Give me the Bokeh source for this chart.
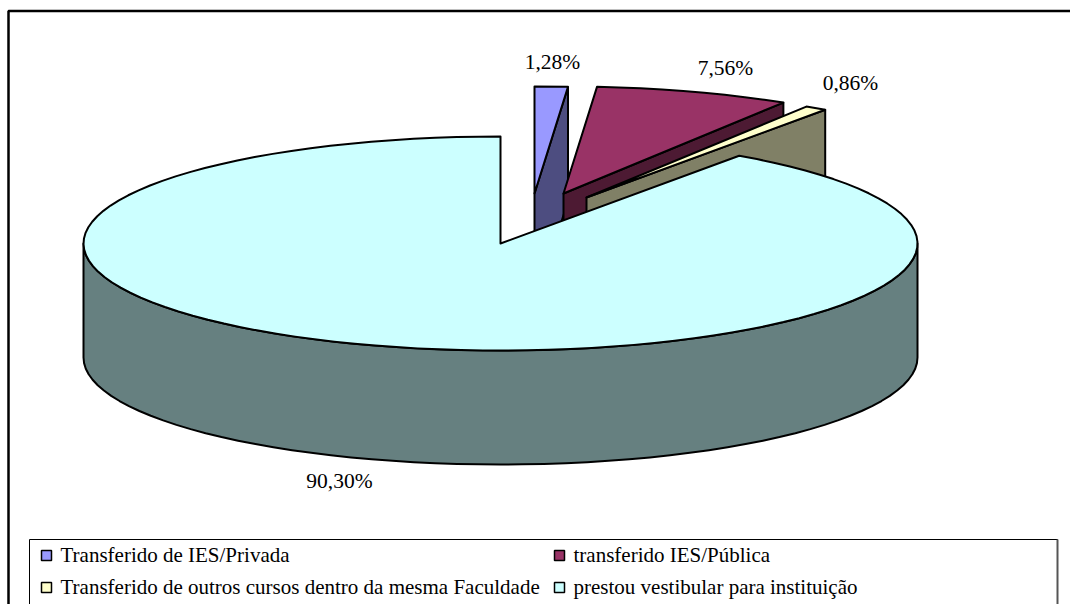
import numpy as np
from bokeh.core.properties import value
from bokeh.embed import file_html
from bokeh.models import Range1d
from bokeh.plotting import figure
from bokeh.resources import INLINE

# Shares of each entry route, in pie order starting at twelve o'clock
categories = [
    "Transferido de IES/Privada",
    "transferido IES/Pública",
    "Transferido de outros cursos dentro da mesma Faculdade",
    "prestou vestibular para instituição",
]
shares = [1.28, 7.56, 0.86, 90.30]
share_labels = ["1,28%", "7,56%", "0,86%", "90,30%"]
top_colors = ["#9999FF", "#993366", "#FFFFCC", "#CCFFFF"]
wall_colors = ["#4D4D80", "#4D1A33", "#808066", "#668080"]

# Projection of the tilted disc, in page pixels
CX, CY, RX, RY, DEPTH = 500, 243, 417, 107, 114
EXPLODE = [(34, -50), (63, -50), (86, -46), (0, 0)]
LABEL_POS = [(552, 61), (725, 67), (850, 82), (339, 480)]
FONT = value("Liberation Serif")


def rim(a0, a1, dx=0, dy=0, step=3.0):
    n = max(2, int((a1 - a0) / step) + 1)
    t = np.radians(np.linspace(a0, a1, n))
    return CX + dx + RX * np.sin(t), CY + dy - RY * np.cos(t)


p = figure(
    width=1070, height=604, x_range=Range1d(0, 1070), y_range=Range1d(604, 0),
    output_backend="svg", toolbar_location=None, min_border=0,
    outline_line_color=None, background_fill_color="white",
)
p.axis.visible = False
p.grid.visible = False

# Outer chart frame: left and top edges only reach the page
p.line([8, 8, 1070], [604, 10.5, 10.5], line_color="black", line_width=2.5)

# Exploded slices are painted back to front, the large slice goes last
edges = np.concatenate([[0], np.cumsum(shares)]) * 3.6
for i in range(3):
    dx, dy = EXPLODE[i]
    tx, ty = CX + dx, CY + dy
    xs, ys = rim(edges[i], edges[i + 1], dx, dy)
    ex, ey = xs[-1], ys[-1]
    p.patch([tx, ex, ex, tx], [ty, ey, ey + DEPTH, ty + DEPTH],
            fill_color=wall_colors[i], line_color="black", line_width=2)
    p.patch([tx, *xs], [ty, *ys], fill_color=top_colors[i],
            line_color="black", line_width=2, line_join="round")

# Large slice: outer wall along the front half, then its top face
wx, wy = rim(90, 270)
p.patch([*wx, *wx[::-1]], [*wy, *(wy[::-1] + DEPTH)], fill_color=wall_colors[3],
        line_color="black", line_width=2, line_join="round")
mx, my = rim(edges[3], edges[4])
p.patch([CX, *mx], [CY, *my], fill_color=top_colors[3],
        line_color="black", line_width=2, line_join="round")

# Percentage labels
p.text([q[0] for q in LABEL_POS], [q[1] for q in LABEL_POS], text=share_labels,
       text_font=FONT, text_font_size="21.5px", text_color="black",
       text_align="center", text_baseline="middle")

# Legend box with two columns of swatches
p.patch([29, 1057, 1057, 29], [539, 539, 640, 640], fill_color="white",
        line_color="black", line_width=1)
p.line([1057, 1057], [539, 604], line_color="#555555", line_width=2)
LEG_X = [46, 559, 46, 559]
LEG_Y = [555, 555, 587, 587]
p.rect(LEG_X, LEG_Y, width=10, height=10, fill_color=top_colors,
       line_color="black", line_width=1.5)
p.text([x + 14 for x in LEG_X], [y - 1 for y in LEG_Y], text=categories,
       text_font=FONT, text_font_size="21px", text_color="black",
       text_align="left", text_baseline="middle")

open("out.html", "w").write(file_html(p, INLINE))
